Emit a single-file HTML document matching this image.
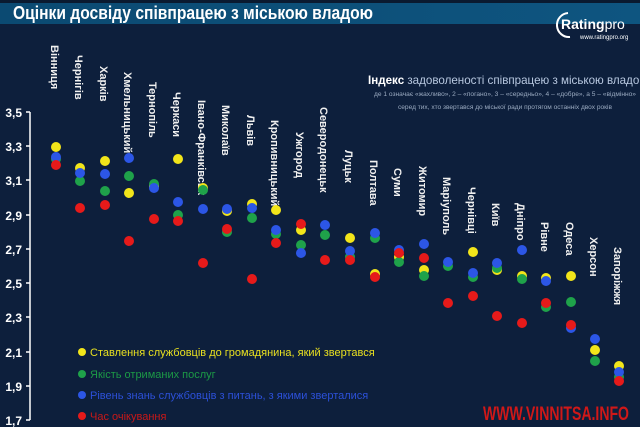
<!DOCTYPE html>
<html><head><meta charset="utf-8"><style>
body{margin:0;background:#0d1f3c;width:640px;height:427px;overflow:hidden}
svg{display:block;font-family:"Liberation Sans",sans-serif}
</style></head><body>
<svg width="640" height="427" viewBox="0 0 640 427" xmlns="http://www.w3.org/2000/svg">
<defs><linearGradient id="g" x1="0" x2="1"><stop offset="0" stop-color="#0b4a72"/><stop offset="1" stop-color="#0e5580"/></linearGradient></defs>
<rect width="640" height="427" fill="#0d1f3c"/>
<rect x="0" y="0" width="640" height="3" fill="#0a1a30"/>
<rect x="0" y="3" width="640" height="21" fill="url(#g)"/>
<text x="13" y="19" font-size="18" font-weight="bold" fill="#fff" textLength="360" lengthAdjust="spacingAndGlyphs">Оцінки досвіду співпрацею з міською владою</text>
<path d="M568 13 A 12 12 0 1 0 570 37" stroke="#fff" stroke-width="2" fill="none"/>
<text x="561" y="29" font-size="14" font-weight="bold" fill="#fff">Rating<tspan font-weight="normal">pro</tspan></text>
<text x="580" y="39" font-size="6" fill="#fff">www.ratingpro.org</text>
<text x="368" y="84" font-size="12" fill="#b8c8e0" textLength="280" lengthAdjust="spacingAndGlyphs"><tspan font-weight="bold" fill="#fff">Індекс</tspan> задоволеності співпрацею з міською владою</text>
<text x="374" y="96" font-size="6" fill="#9aaac0" textLength="262" lengthAdjust="spacingAndGlyphs">де 1 означає «жахливо», 2 – «погано», 3 – «середньо», 4 – «добре», а 5 – «відмінно»</text>
<text x="398" y="109" font-size="6" fill="#9aaac0" textLength="214" lengthAdjust="spacingAndGlyphs">серед тих, хто звертався до міської ради протягом останніх двох років</text>
<g stroke="#fff" stroke-width="1.5"><line x1="30" y1="112" x2="30" y2="420"/>
<line x1="26" y1="112" x2="30" y2="112"/><line x1="26" y1="146" x2="30" y2="146"/><line x1="26" y1="180" x2="30" y2="180"/><line x1="26" y1="215" x2="30" y2="215"/><line x1="26" y1="249" x2="30" y2="249"/><line x1="26" y1="283" x2="30" y2="283"/><line x1="26" y1="317" x2="30" y2="317"/><line x1="26" y1="352" x2="30" y2="352"/><line x1="26" y1="386" x2="30" y2="386"/><line x1="26" y1="420" x2="30" y2="420"/></g>
<g font-size="12" font-weight="bold" fill="#fff" text-anchor="end">
<text x="22" y="117">3,5</text><text x="22" y="151">3,3</text><text x="22" y="185">3,1</text><text x="22" y="220">2,9</text><text x="22" y="254">2,7</text><text x="22" y="288">2,5</text><text x="22" y="322">2,3</text><text x="22" y="357">2,1</text><text x="22" y="391">1,9</text><text x="22" y="425">1,7</text></g>
<g font-size="11" font-weight="bold" fill="#f0f0f0">
<text transform="translate(51,45) rotate(90)">Вінниця</text>
<text transform="translate(75,55) rotate(90)">Чернігів</text>
<text transform="translate(100,66) rotate(90)">Харків</text>
<text transform="translate(124,72) rotate(90)">Хмельницький</text>
<text transform="translate(149,82) rotate(90)">Тернопіль</text>
<text transform="translate(173,92) rotate(90)">Черкаси</text>
<text transform="translate(198,100) rotate(90)">Івано-Франківськ</text>
<text transform="translate(222,105) rotate(90)">Миколаїв</text>
<text transform="translate(247,115) rotate(90)">Львів</text>
<text transform="translate(271,120) rotate(90)">Кропивницький</text>
<text transform="translate(296,132) rotate(90)">Ужгород</text>
<text transform="translate(320,107) rotate(90)">Северодонецьк</text>
<text transform="translate(345,150) rotate(90)">Луцьк</text>
<text transform="translate(370,160) rotate(90)">Полтава</text>
<text transform="translate(394,168) rotate(90)">Суми</text>
<text transform="translate(419,166) rotate(90)">Житомир</text>
<text transform="translate(443,177) rotate(90)">Маріуполь</text>
<text transform="translate(468,187) rotate(90)">Чернівці</text>
<text transform="translate(492,203) rotate(90)">Київ</text>
<text transform="translate(517,203) rotate(90)">Дніпро</text>
<text transform="translate(541,222) rotate(90)">Рівне</text>
<text transform="translate(566,222) rotate(90)">Одеса</text>
<text transform="translate(590,237) rotate(90)">Херсон</text>
<text transform="translate(614,247) rotate(90)">Запоріжжя</text>
</g>
<g>
<g fill="#f2e51a">
<circle cx="56" cy="147" r="5"/><circle cx="80" cy="168" r="5"/><circle cx="105" cy="161" r="5"/><circle cx="129" cy="193" r="5"/><circle cx="154" cy="186" r="5"/><circle cx="178" cy="159" r="5"/><circle cx="203" cy="188" r="5"/><circle cx="227" cy="211" r="5"/><circle cx="252" cy="204" r="5"/><circle cx="276" cy="210" r="5"/><circle cx="301" cy="230" r="5"/><circle cx="350" cy="238" r="5"/><circle cx="375" cy="274" r="5"/><circle cx="399" cy="257" r="5"/><circle cx="424" cy="270" r="5"/><circle cx="473" cy="252" r="5"/><circle cx="497" cy="270" r="5"/><circle cx="522" cy="276" r="5"/><circle cx="546" cy="278" r="5"/><circle cx="571" cy="276" r="5"/><circle cx="595" cy="350" r="5"/><circle cx="619" cy="366" r="5"/></g>
<g fill="#1fa24a">
<circle cx="56" cy="159" r="5"/><circle cx="80" cy="181" r="5"/><circle cx="105" cy="191" r="5"/><circle cx="129" cy="176" r="5"/><circle cx="154" cy="184" r="5"/><circle cx="178" cy="215" r="5"/><circle cx="203" cy="190" r="5"/><circle cx="227" cy="232" r="5"/><circle cx="252" cy="218" r="5"/><circle cx="276" cy="234" r="5"/><circle cx="301" cy="245" r="5"/><circle cx="325" cy="235" r="5"/><circle cx="350" cy="257" r="5"/><circle cx="375" cy="238" r="5"/><circle cx="399" cy="262" r="5"/><circle cx="424" cy="276" r="5"/><circle cx="448" cy="266" r="5"/><circle cx="473" cy="277" r="5"/><circle cx="497" cy="268" r="5"/><circle cx="522" cy="279" r="5"/><circle cx="546" cy="307" r="5"/><circle cx="571" cy="302" r="5"/><circle cx="595" cy="361" r="5"/><circle cx="619" cy="377" r="5"/></g>
<g fill="#2c56e6">
<circle cx="56" cy="157" r="5"/><circle cx="80" cy="173" r="5"/><circle cx="105" cy="174" r="5"/><circle cx="129" cy="158" r="5"/><circle cx="154" cy="188" r="5"/><circle cx="178" cy="202" r="5"/><circle cx="203" cy="209" r="5"/><circle cx="227" cy="209" r="5"/><circle cx="252" cy="208" r="5"/><circle cx="276" cy="230" r="5"/><circle cx="301" cy="253" r="5"/><circle cx="325" cy="225" r="5"/><circle cx="350" cy="251" r="5"/><circle cx="375" cy="233" r="5"/><circle cx="399" cy="250" r="5"/><circle cx="424" cy="244" r="5"/><circle cx="448" cy="262" r="5"/><circle cx="473" cy="273" r="5"/><circle cx="497" cy="263" r="5"/><circle cx="522" cy="250" r="5"/><circle cx="546" cy="281" r="5"/><circle cx="571" cy="328" r="5"/><circle cx="595" cy="339" r="5"/><circle cx="619" cy="372" r="5"/></g>
<g fill="#e61a1a">
<circle cx="56" cy="165" r="5"/><circle cx="80" cy="208" r="5"/><circle cx="105" cy="205" r="5"/><circle cx="129" cy="241" r="5"/><circle cx="154" cy="219" r="5"/><circle cx="178" cy="221" r="5"/><circle cx="203" cy="263" r="5"/><circle cx="227" cy="229" r="5"/><circle cx="252" cy="279" r="5"/><circle cx="276" cy="243" r="5"/><circle cx="301" cy="224" r="5"/><circle cx="325" cy="260" r="5"/><circle cx="350" cy="260" r="5"/><circle cx="375" cy="277" r="5"/><circle cx="399" cy="253" r="5"/><circle cx="424" cy="258" r="5"/><circle cx="448" cy="303" r="5"/><circle cx="473" cy="296" r="5"/><circle cx="497" cy="316" r="5"/><circle cx="522" cy="323" r="5"/><circle cx="546" cy="303" r="5"/><circle cx="571" cy="325" r="5"/><circle cx="619" cy="381" r="5"/></g>
</g>
<circle cx="82" cy="352" r="4" fill="#f2e51a"/><text x="90" y="356" font-size="11" fill="#e8e020">Ставлення службовців до громадянина, який звертався</text>
<circle cx="82" cy="374" r="4" fill="#1fa24a"/><text x="90" y="378" font-size="11" fill="#1c9a46">Якість отриманих послуг</text>
<circle cx="82" cy="395" r="4" fill="#2c56e6"/><text x="90" y="399" font-size="11" fill="#2c50d8">Рівень знань службовців з питань, з якими зверталися</text>
<circle cx="82" cy="416" r="4" fill="#e61a1a"/><text x="90" y="420" font-size="11" fill="#c81818">Час очікування</text>
<text x="483" y="420" font-size="19" font-weight="bold" fill="#d01818" textLength="146" lengthAdjust="spacingAndGlyphs">WWW.VINNITSA.INFO</text>
</svg>
</body></html>
